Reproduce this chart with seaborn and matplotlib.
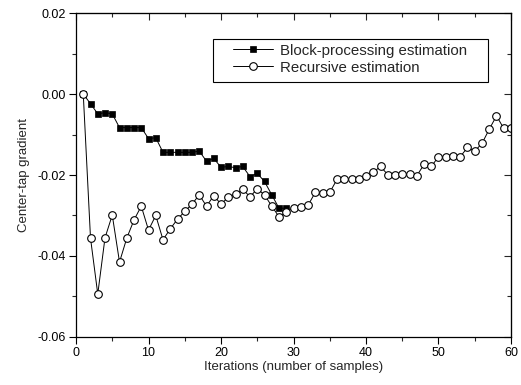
import numpy as np
import pandas as pd
import matplotlib
matplotlib.use("Agg")
import matplotlib.pyplot as plt
import seaborn as sns
from matplotlib.ticker import MultipleLocator
from matplotlib.patches import Rectangle

block_x = list(range(1, 30))
block_y = [0.0, -0.0024, -0.0049, -0.0046, -0.0049, -0.0083, -0.0083, -0.0083, -0.0083,
           -0.0110, -0.0108, -0.0144, -0.0144, -0.0144, -0.0144, -0.0144, -0.0141,
           -0.0166, -0.0159, -0.0181, -0.0179, -0.0182, -0.0179, -0.0204, -0.0196,
           -0.0216, -0.0249, -0.0282, -0.0282]

rec_x = list(range(1, 61))
rec_y = [0.0, -0.0356, -0.0494, -0.0355, -0.0299, -0.0415, -0.0356, -0.0311, -0.0277,
         -0.0336, -0.0300, -0.0360, -0.0333, -0.0309, -0.0290, -0.0272, -0.0249,
         -0.0277, -0.0251, -0.0272, -0.0255, -0.0248, -0.0235, -0.0254, -0.0234,
         -0.0249, -0.0277, -0.0303, -0.0292, -0.0281, -0.0279, -0.0275, -0.0243,
         -0.0244, -0.0243, -0.0211, -0.0211, -0.0211, -0.0211, -0.0202, -0.0193,
         -0.0179, -0.0199, -0.0199, -0.0198, -0.0198, -0.0202, -0.0174, -0.0179,
         -0.0155, -0.0155, -0.0153, -0.0155, -0.0132, -0.0141, -0.0122, -0.0087,
         -0.0054, -0.0085, -0.0085]

labels = ["Block-processing estimation", "Recursive estimation"]

sns.set_style("ticks")
plt.rcParams["font.family"] = ["Liberation Sans", "DejaVu Sans"]
plt.rcParams["axes.unicode_minus"] = False

W, H = 521, 385
fig = plt.figure(figsize=(W / 100, H / 100), dpi=100)
ax = fig.add_axes([0.1459, 0.1247, 0.8349, 0.8415])

df_b = pd.DataFrame({"x": block_x, "y": block_y})
df_r = pd.DataFrame({"x": rec_x, "y": rec_y})

sns.lineplot(data=df_b, x="x", y="y", ax=ax, color="black", lw=0.7,
             marker="s", markersize=5, markerfacecolor="black",
             markeredgecolor="black", markeredgewidth=0.5, label=labels[0])
sns.lineplot(data=df_r, x="x", y="y", ax=ax, color="black", lw=0.7,
             marker="o", markersize=5.5, markerfacecolor="white",
             markeredgecolor="black", markeredgewidth=0.8, label=labels[1])

ax.set_xlim(0, 60)
ax.set_ylim(-0.06, 0.02)
ax.set_xticks([0, 10, 20, 30, 40, 50, 60])
ax.set_yticks([-0.06, -0.04, -0.02, 0.00, 0.02])
ax.set_yticklabels(["-0.06", "-0.04", "-0.02", "0.00", "0.02"])
ax.xaxis.set_minor_locator(MultipleLocator(5))
ax.yaxis.set_minor_locator(MultipleLocator(0.01))
ax.tick_params(which="major", direction="out", length=5, width=0.8, labelsize=9,
               colors="black", pad=2)
ax.tick_params(which="minor", direction="out", length=3, width=0.8)
for s in ax.spines.values():
    s.set_linewidth(0.9)
    s.set_color("black")

# mirrored ticks on top/right pointing inward
top = ax.secondary_xaxis("top")
top.set_xticks([0, 10, 20, 30, 40, 50, 60])
top.xaxis.set_minor_locator(MultipleLocator(5))
top.tick_params(which="major", direction="in", length=5, width=0.8, labeltop=False)
top.tick_params(which="minor", direction="in", length=3, width=0.8)
right = ax.secondary_yaxis("right")
right.set_yticks([-0.06, -0.04, -0.02, 0.00, 0.02])
right.yaxis.set_minor_locator(MultipleLocator(0.01))
right.tick_params(which="major", direction="in", length=5, width=0.8, labelright=False)
right.tick_params(which="minor", direction="in", length=3, width=0.8)

ax.set_xlabel("Iterations (number of samples)", fontsize=9.5, labelpad=2)
ax.set_ylabel("Center-tap gradient", fontsize=9.5, labelpad=6)

leg = ax.legend(loc="upper left", bbox_to_anchor=(233 / W, 1 - 43.5 / H),
                bbox_transform=fig.transFigure, fontsize=10.8,
                frameon=False, handlelength=2.67, handletextpad=0.45,
                borderpad=0, labelspacing=0.2, borderaxespad=0)
leg.set_zorder(6)
# legend frame
frame = Rectangle((213 / W, 1 - 82 / H), 275 / W, 43 / H,
                  transform=fig.transFigure, fill=True, facecolor="white",
                  edgecolor="black", linewidth=0.8, zorder=5, clip_on=False)
ax.add_patch(frame)

fig.savefig("out.png", dpi=100)
